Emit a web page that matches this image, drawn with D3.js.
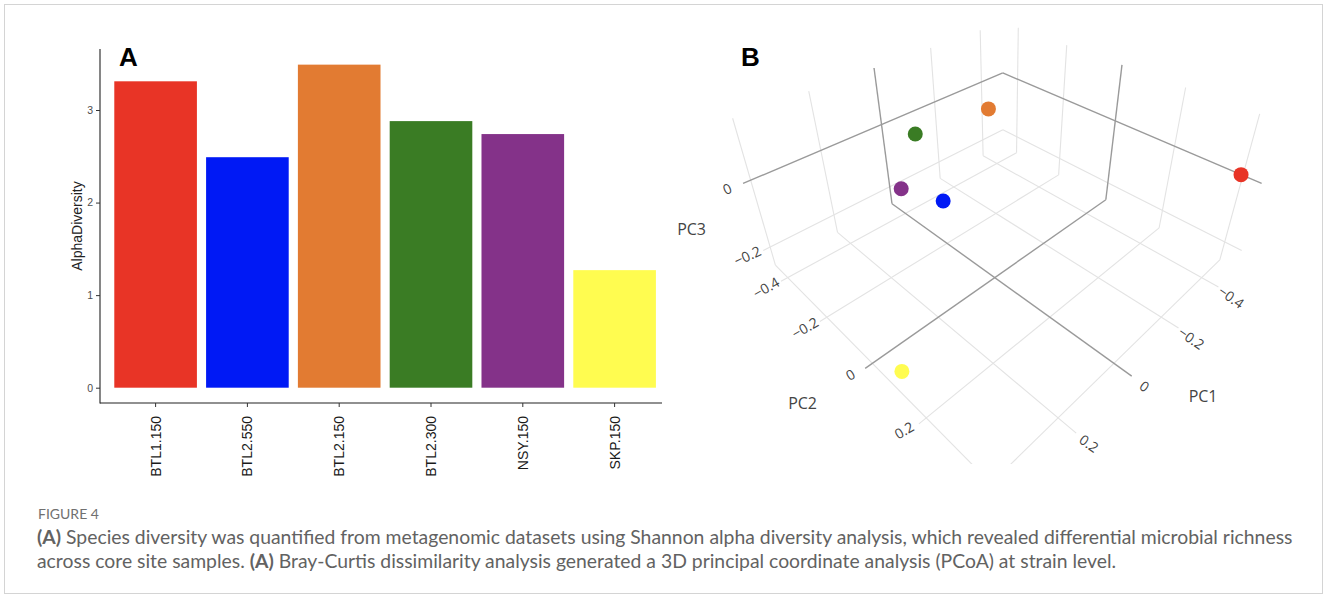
<!DOCTYPE html>
<html>
<head>
<meta charset="utf-8">
<script src="https://cdn.jsdelivr.net/npm/d3@7"></script>
<style>
	html, body { margin: 0; padding: 0; background: #fff; }
	svg { display: block; }
</style>
</head>
<body>
<div id="figure"></div>
<script>
// ---- data ----
const SAMPLES = ["BTL1.150", "BTL2.550", "BTL2.150", "BTL2.300", "NSY.150", "SKP.150"];
const ALPHA_DIVERSITY = [3.31, 2.49, 3.49, 2.88, 2.74, 1.27];
const SAMPLE_COLORS = ["#e83426", "#0019f5", "#e27b32", "#3a7c24", "#843289", "#fffc50"];
const Y_TICKS = [0, 1, 2, 3];

const PC1 = [-0.5, 0.021, -0.33, -0.014, 0.05, 0.4];
const PC2 = [0.395, -0.177, -0.364, -0.326, -0.33, 0.128];
const PC3 = [0.0, -0.1, -0.03, 0.02, -0.12, -0.18];
const PC1_TICKS = [-0.4, -0.2, 0, 0.2, 0.4];
const PC2_TICKS = [-0.4, -0.2, 0, 0.2, 0.4];
const PC3_TICKS = [-0.2, 0];

const CAPTION_TITLE = "FIGURE 4";
const CAPTION_LINES = [
	[["(A)", true], [" Species diversity was quantified from metagenomic datasets using Shannon alpha diversity analysis, which revealed differential microbial richness", false]],
	[["across core site samples. ", false], ["(A)", true], [" Bray-Curtis dissimilarity analysis generated a 3D principal coordinate analysis (PCoA) at strain level.", false]]
];

const WIDTH = 1328;
const HEIGHT = 597;

const svg = d3.select("#figure")
	.append("svg")
	.attr("width", WIDTH)
	.attr("height", HEIGHT);

svg.append("rect")
	.attr("x", 4.5).attr("y", 4.5)
	.attr("width", WIDTH - 10).attr("height", HEIGHT - 8)
	.attr("fill", "none")
	.attr("stroke", "#d4d4d4");

// ---- panel A: bar chart ----
function drawBars() {
	const g = svg.append("g").attr("class", "panel-a");
	const x = d3.scaleBand()
		.domain(SAMPLES)
		.range([109.7, 660.5])
		.paddingInner(0.1)
		.paddingOuter(0.05);
	const y = d3.scaleLinear().domain([0, 3]).range([387.7, 110]);

	g.selectAll(".bar")
		.data(SAMPLES)
		.enter()
		.append("rect")
		.attr("class", "bar")
		.attr("x", (d) => x(d))
		.attr("width", x.bandwidth())
		.attr("y", (d, i) => y(ALPHA_DIVERSITY[i]))
		.attr("height", (d, i) => y(0) - y(ALPHA_DIVERSITY[i]))
		.attr("fill", (d, i) => SAMPLE_COLORS[i]);

	const yAxis = g.append("g")
		.attr("transform", "translate(100,0)")
		.call(d3.axisLeft(y).tickValues(Y_TICKS).tickSize(4).tickPadding(3).tickFormat(d3.format("d")));
	yAxis.select(".domain").attr("d", "M0,49V403.5").attr("stroke", "#222").attr("stroke-width", 1.1);
	yAxis.selectAll(".tick line").attr("stroke", "#333");
	yAxis.selectAll("text")
		.attr("font-family", "Liberation Sans, Arial, sans-serif")
		.attr("font-size", "10.5px")
		.attr("fill", "#4d4d4d");

	const xAxis = g.append("g")
		.attr("transform", "translate(0,403)")
		.call(d3.axisBottom(x).tickSize(4).tickSizeOuter(0));
	xAxis.select(".domain").attr("d", "M100,0H662").attr("stroke", "#222").attr("stroke-width", 1.1);
	xAxis.selectAll(".tick line").attr("stroke", "#333");
	xAxis.selectAll("text")
		.attr("transform", "rotate(-90)")
		.attr("x", -13)
		.attr("y", 0)
		.attr("dy", "0.36em")
		.attr("text-anchor", "end")
		.attr("font-family", "Liberation Sans, Arial, sans-serif")
		.attr("font-size", "14px")
		.attr("fill", "#1a1a1a");

	g.append("text")
		.attr("transform", "translate(82,226) rotate(-90)")
		.attr("text-anchor", "middle")
		.attr("font-family", "Liberation Sans, Arial, sans-serif")
		.attr("font-size", "14px")
		.attr("fill", "#222")
		.text("AlphaDiversity");

	g.append("text")
		.attr("x", 119).attr("y", 66)
		.attr("font-family", "Liberation Sans, Arial, sans-serif")
		.attr("font-weight", "bold")
		.attr("font-size", "26px")
		.attr("fill", "#000")
		.text("A");
}

// ---- panel B: 3D PCoA ----
const CAMERA = { f: 597, cx: 1004, cy: 171, pitch: 34.2 * Math.PI / 180, r0: 0.009, H: 2.655, V: 2.008 };
const HZ = 0.51;
const pc1Scale = d3.scaleLinear().domain([-0.5, 0.42]).range([-1, 1]);
const pc2Scale = d3.scaleLinear().domain([-0.47, 0.45]).range([-1, 1]);
const pc3Scale = d3.scaleLinear().domain([-0.26, 0.16]).range([-HZ, HZ]);

function project(a, b, z) {
	const wr = (b - a) * Math.SQRT1_2 - CAMERA.r0;
	const wh = -(a + b) * Math.SQRT1_2 + CAMERA.H;
	const dz = z - CAMERA.V;
	const sp = Math.sin(CAMERA.pitch), cp = Math.cos(CAMERA.pitch);
	const depth = cp * wh - sp * dz;
	const up = sp * wh + cp * dz;
	return { x: CAMERA.cx + CAMERA.f * wr / depth, y: CAMERA.cy - CAMERA.f * up / depth, depth: depth };
}

function drawScatter3D() {
	svg.append("clipPath").attr("id", "scene-clip")
		.append("rect").attr("x", 665).attr("y", 20).attr("width", 640).attr("height", 444);
	const g = svg.append("g").attr("class", "panel-b").attr("clip-path", "url(#scene-clip)");

	const segs = [];
	// floor grid
	PC1_TICKS.forEach((t) => segs.push({ p: [[pc1Scale(t), -1, -HZ], [pc1Scale(t), 1, -HZ]], zero: t === 0 }));
	PC2_TICKS.forEach((t) => segs.push({ p: [[-1, pc2Scale(t), -HZ], [1, pc2Scale(t), -HZ]], zero: t === 0 }));
	// left back wall (PC2 = min)
	PC1_TICKS.forEach((t) => segs.push({ p: [[pc1Scale(t), -1, -HZ], [pc1Scale(t), -1, HZ]], zero: t === 0 }));
	PC3_TICKS.forEach((t) => segs.push({ p: [[-1, -1, pc3Scale(t)], [1, -1, pc3Scale(t)]], zero: t === 0 }));
	// right back wall (PC1 = min)
	PC2_TICKS.forEach((t) => segs.push({ p: [[-1, pc2Scale(t), -HZ], [-1, pc2Scale(t), HZ]], zero: t === 0 }));
	PC3_TICKS.forEach((t) => segs.push({ p: [[-1, -1, pc3Scale(t)], [-1, 1, pc3Scale(t)]], zero: t === 0 }));

	segs.sort((s1, s2) => s1.zero - s2.zero);
	g.selectAll(".grid")
		.data(segs)
		.enter()
		.append("line")
		.attr("class", "grid")
		.each(function (d) {
			const p0 = project(...d.p[0]);
			const p1 = project(...d.p[1]);
			d3.select(this)
				.attr("x1", p0.x).attr("y1", p0.y)
				.attr("x2", p1.x).attr("y2", p1.y);
		})
		.attr("stroke", (d) => (d.zero ? "#9a9a9a" : "#e3e3e3"))
		.attr("stroke-width", (d) => (d.zero ? 1.4 : 1.1));

	const fmt = (v) => (v === 0 ? "0" : d3.format(".1f")(v).replace("-", "\u2212"));
	const labelStyle = (sel, size) => sel
		.attr("font-family", "Open Sans, sans-serif")
		.attr("font-size", size)
		.attr("fill", "#444")
		.attr("text-anchor", "middle")
		.attr("dominant-baseline", "central");

	// PC1 ticks along the front-right floor edge
	g.selectAll(".pc1-tick")
		.data(PC1_TICKS)
		.enter()
		.append("text")
		.attr("class", "pc1-tick")
		.attr("transform", (d) => {
			const p = project(pc1Scale(d), 1, -HZ);
			return `translate(${p.x + 13},${p.y + 10}) rotate(35)`;
		})
		.call(labelStyle, "14px")
		.text(fmt);
	// PC2 ticks along the front-left floor edge
	g.selectAll(".pc2-tick")
		.data(PC2_TICKS)
		.enter()
		.append("text")
		.attr("class", "pc2-tick")
		.attr("transform", (d) => {
			const p = project(1, pc2Scale(d), -HZ);
			return `translate(${p.x - 15},${p.y + 6}) rotate(-30)`;
		})
		.call(labelStyle, "14px")
		.text(fmt);
	// PC3 ticks along the left vertical edge
	g.selectAll(".pc3-tick")
		.data(PC3_TICKS)
		.enter()
		.append("text")
		.attr("class", "pc3-tick")
		.attr("transform", (d) => {
			const p = project(1, -1, pc3Scale(d));
			return `translate(${p.x - 16},${p.y + 5}) rotate(-25)`;
		})
		.call(labelStyle, "14px")
		.text(fmt);

	// axis titles sit beside the middle of each labelled edge
	const titles = [
		{ text: "PC1", p: project(pc1Scale(-0.1), 1, -HZ), dx: 47, dy: 45 },
		{ text: "PC2", p: project(1, pc2Scale(-0.1), -HZ), dx: -39, dy: 59 },
		{ text: "PC3", p: project(1, -1, pc3Scale(-0.1)), dx: -62, dy: 11 }
	];
	g.selectAll(".axis-title")
		.data(titles)
		.enter()
		.append("text")
		.attr("class", "axis-title")
		.attr("x", (d) => d.p.x + d.dx)
		.attr("y", (d) => d.p.y + d.dy)
		.call(labelStyle, "16px")
		.text((d) => d.text);

	const pts = SAMPLES.map((s, i) => {
		const p = project(pc1Scale(PC1[i]), pc2Scale(PC2[i]), pc3Scale(PC3[i]));
		return { sample: s, color: SAMPLE_COLORS[i], x: p.x, y: p.y, depth: p.depth };
	}).sort((p1, p2) => p2.depth - p1.depth);

	g.selectAll(".point")
		.data(pts)
		.enter()
		.append("circle")
		.attr("class", "point")
		.attr("cx", (d) => d.x)
		.attr("cy", (d) => d.y)
		.attr("r", 7.5)
		.attr("fill", (d) => d.color);

	svg.append("text")
		.attr("x", 741).attr("y", 66)
		.attr("font-family", "Liberation Sans, Arial, sans-serif")
		.attr("font-weight", "bold")
		.attr("font-size", "26px")
		.attr("fill", "#000")
		.text("B");
}

// ---- caption ----
function drawCaption() {
	const g = svg.append("g").attr("class", "caption");
	g.append("text")
		.attr("x", 38).attr("y", 519)
		.attr("font-family", "Lato, Open Sans, sans-serif")
		.attr("font-size", "14px")
		.attr("fill", "#707070")
		.text(CAPTION_TITLE);

	const rows = g.selectAll(".caption-line")
		.data(CAPTION_LINES)
		.enter()
		.append("text")
		.attr("class", "caption-line")
		.attr("x", 37)
		.attr("y", (d, i) => 544 + i * 24)
		.attr("font-family", "Lato, Open Sans, sans-serif")
		.attr("font-size", "17px")
		.attr("fill", "#626262");
	rows.selectAll("tspan")
		.data((d) => d)
		.enter()
		.append("tspan")
		.attr("font-weight", (d) => (d[1] ? "bold" : "normal"))
		.text((d) => d[0]);
	// fit font size so the first line spans the caption width
	const w = rows.node().getComputedTextLength();
	rows.attr("font-size", (17 * 1256 / w) + "px");
}

drawBars();
drawScatter3D();
drawCaption();
</script>
</body>
</html>
